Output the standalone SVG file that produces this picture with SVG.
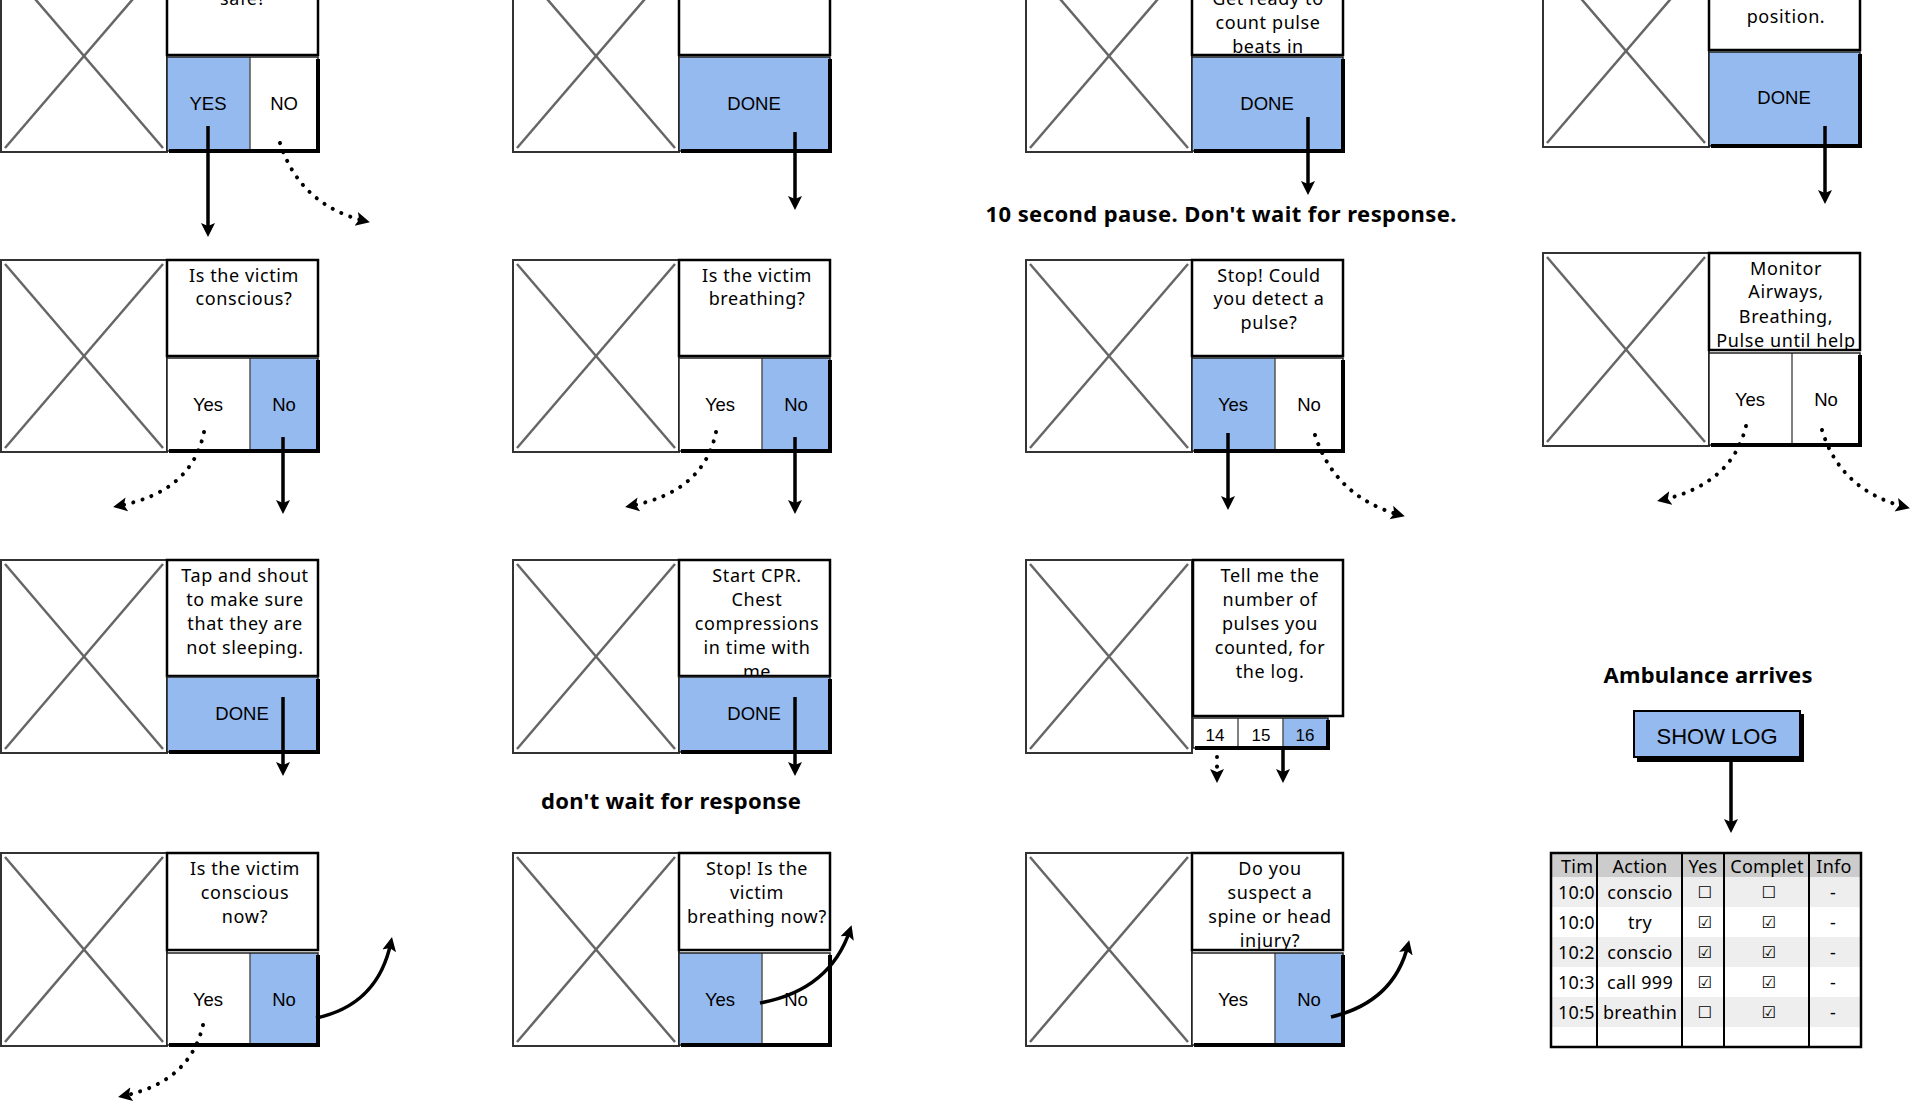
<svg xmlns="http://www.w3.org/2000/svg" width="1914" height="1103" viewBox="0 0 1914 1103">
<style>
.img{fill:#fff;stroke:#333;stroke-width:2}
.x{stroke:#666;stroke-width:2.5}
.panel{fill:#fff;stroke:#000;stroke-width:2.5}
.blue{fill:#94BAEF}
.white{fill:#fff}
.frame{fill:none;stroke:#222;stroke-width:1.5}
.shadow{fill:none;stroke:#000;stroke-width:4}
.div{stroke:#555;stroke-width:1.5}
.t{font-family:"Noto Sans",sans-serif;font-size:18px;letter-spacing:0.6px;text-anchor:middle;fill:#000}
.b{font-family:"Liberation Sans",Arial,sans-serif;font-size:18.5px;text-anchor:middle;fill:#000}
.lbl{font-family:"Noto Sans",sans-serif;font-weight:bold;font-size:22px;text-anchor:middle;fill:#000}
.solid{fill:none;stroke:#000;stroke-width:3.5;marker-end:url(#ah)}
.dot{fill:none;stroke:#000;stroke-width:4;stroke-dasharray:0.1 9.5;stroke-linecap:round;marker-end:url(#ah)}
.tb{font-family:"Noto Sans",sans-serif;font-size:18px;letter-spacing:0.3px;fill:#000}
.mid{text-anchor:middle}
.cb{font-family:"DejaVu Sans",sans-serif;font-size:16px;text-anchor:middle;fill:#000}
.tl{stroke:#000;stroke-width:2}
</style>
<defs>
<marker id="ah" markerUnits="userSpaceOnUse" markerWidth="20" markerHeight="20" refX="9" refY="8" orient="auto">
<path d="M0,1 L14,8 L0,15 L3,8 z" fill="#000" stroke="none"/>
</marker>
</defs>

<!-- Row 1 -->
<g id="node-r1c1">
<rect class="img" x="1" y="-40" width="166" height="192"/>
<line class="x" x1="5" y1="-36" x2="163" y2="148"/><line class="x" x1="163" y1="-36" x2="5" y2="148"/>
<rect class="panel" x="167" y="-40" width="151" height="95"/>
<text class="t" x="243" y="5">safe?</text>
<rect class="blue" x="167" y="57" width="83" height="94"/><rect class="white" x="250" y="57" width="68" height="94"/>
<line class="div" x1="250" y1="57" x2="250" y2="151"/>
<rect class="frame" x="167" y="57" width="151" height="94"/>
<path class="shadow" d="M318,59 V151 H169"/>
<text class="b" x="208" y="110">YES</text><text class="b" x="284" y="110">NO</text>
</g>
<g id="node-r1c2">
<rect class="img" x="513" y="-40" width="166" height="192"/>
<line class="x" x1="517" y1="-36" x2="675" y2="148"/><line class="x" x1="675" y1="-36" x2="517" y2="148"/>
<rect class="panel" x="679" y="-40" width="151" height="95"/>
<rect class="blue" x="679" y="57" width="151" height="94"/>
<rect class="frame" x="679" y="57" width="151" height="94"/>
<path class="shadow" d="M830,59 V151 H681"/>
<text class="b" x="754" y="110">DONE</text>
</g>
<g id="node-r1c3">
<rect class="img" x="1026" y="-40" width="166" height="192"/>
<line class="x" x1="1030" y1="-36" x2="1188" y2="148"/><line class="x" x1="1188" y1="-36" x2="1030" y2="148"/>
<rect class="panel" x="1192" y="-40" width="151" height="95"/>
<text class="t" x="1268" y="5">Get ready to</text>
<text class="t" x="1268" y="29">count pulse</text>
<text class="t" x="1268" y="53">beats in</text>
<rect class="blue" x="1192" y="57" width="151" height="94"/>
<rect class="frame" x="1192" y="57" width="151" height="94"/>
<path class="shadow" d="M1343,59 V151 H1194"/>
<text class="b" x="1267" y="110">DONE</text>
</g>
<g id="node-r1c4">
<rect class="img" x="1543" y="-45" width="166" height="192"/>
<line class="x" x1="1547" y1="-41" x2="1705" y2="143"/><line class="x" x1="1705" y1="-41" x2="1547" y2="143"/>
<rect class="panel" x="1709" y="-45" width="151" height="95"/>
<text class="t" x="1786" y="23">position.</text>
<rect class="blue" x="1709" y="52" width="151" height="94"/>
<rect class="frame" x="1709" y="52" width="151" height="94"/>
<path class="shadow" d="M1860,54 V146 H1711"/>
<text class="b" x="1784" y="104">DONE</text>
</g>

<!-- Row 2 -->
<g id="node-r2c1">
<rect class="img" x="1" y="260" width="166" height="192"/>
<line class="x" x1="5" y1="264" x2="163" y2="448"/><line class="x" x1="163" y1="264" x2="5" y2="448"/>
<rect class="panel" x="167" y="260" width="151" height="96"/>
<text class="t" x="244" y="282">Is the victim</text>
<text class="t" x="244" y="305">conscious?</text>
<rect class="white" x="167" y="358" width="83" height="93"/><rect class="blue" x="250" y="358" width="68" height="93"/>
<line class="div" x1="250" y1="358" x2="250" y2="451"/>
<rect class="frame" x="167" y="358" width="151" height="93"/>
<path class="shadow" d="M318,360 V451 H169"/>
<text class="b" x="208" y="411">Yes</text><text class="b" x="284" y="411">No</text>
</g>
<g id="node-r2c2">
<rect class="img" x="513" y="260" width="166" height="192"/>
<line class="x" x1="517" y1="264" x2="675" y2="448"/><line class="x" x1="675" y1="264" x2="517" y2="448"/>
<rect class="panel" x="679" y="260" width="151" height="96"/>
<text class="t" x="757" y="282">Is the victim</text>
<text class="t" x="757" y="305">breathing?</text>
<rect class="white" x="679" y="358" width="83" height="93"/><rect class="blue" x="762" y="358" width="68" height="93"/>
<line class="div" x1="762" y1="358" x2="762" y2="451"/>
<rect class="frame" x="679" y="358" width="151" height="93"/>
<path class="shadow" d="M830,360 V451 H681"/>
<text class="b" x="720" y="411">Yes</text><text class="b" x="796" y="411">No</text>
</g>
<g id="node-r2c3">
<rect class="img" x="1026" y="260" width="166" height="192"/>
<line class="x" x1="1030" y1="264" x2="1188" y2="448"/><line class="x" x1="1188" y1="264" x2="1030" y2="448"/>
<rect class="panel" x="1192" y="260" width="151" height="96"/>
<text class="t" x="1269" y="282">Stop! Could</text>
<text class="t" x="1269" y="305">you detect a</text>
<text class="t" x="1269" y="329">pulse?</text>
<rect class="blue" x="1192" y="358" width="83" height="93"/><rect class="white" x="1275" y="358" width="68" height="93"/>
<line class="div" x1="1275" y1="358" x2="1275" y2="451"/>
<rect class="frame" x="1192" y="358" width="151" height="93"/>
<path class="shadow" d="M1343,360 V451 H1194"/>
<text class="b" x="1233" y="411">Yes</text><text class="b" x="1309" y="411">No</text>
</g>
<g id="node-r2c4">
<rect class="img" x="1543" y="253" width="166" height="193"/>
<line class="x" x1="1547" y1="257" x2="1705" y2="442"/><line class="x" x1="1705" y1="257" x2="1547" y2="442"/>
<rect class="panel" x="1709" y="253" width="151" height="97"/>
<text class="t" x="1786" y="275">Monitor</text>
<text class="t" x="1786" y="298">Airways,</text>
<text class="t" x="1786" y="323">Breathing,</text>
<text class="t" x="1786" y="347">Pulse until help</text>
<rect class="white" x="1709" y="353" width="83" height="92"/><rect class="white" x="1792" y="353" width="68" height="92"/>
<line class="div" x1="1792" y1="353" x2="1792" y2="445"/>
<rect class="frame" x="1709" y="353" width="151" height="92"/>
<path class="shadow" d="M1860,355 V445 H1711"/>
<text class="b" x="1750" y="406">Yes</text><text class="b" x="1826" y="406">No</text>
</g>

<!-- Row 3 -->
<g id="node-r3c1">
<rect class="img" x="1" y="560" width="166" height="193"/>
<line class="x" x1="5" y1="564" x2="163" y2="749"/><line class="x" x1="163" y1="564" x2="5" y2="749"/>
<rect class="panel" x="167" y="560" width="151" height="116"/>
<text class="t" x="245" y="582">Tap and shout</text>
<text class="t" x="245" y="606">to make sure</text>
<text class="t" x="245" y="630">that they are</text>
<text class="t" x="245" y="654">not sleeping.</text>
<rect class="blue" x="167" y="677" width="151" height="75"/>
<rect class="frame" x="167" y="677" width="151" height="75"/>
<path class="shadow" d="M318,679 V752 H169"/>
<text class="b" x="242" y="720">DONE</text>
</g>
<g id="node-r3c2">
<rect class="img" x="513" y="560" width="166" height="193"/>
<line class="x" x1="517" y1="564" x2="675" y2="749"/><line class="x" x1="675" y1="564" x2="517" y2="749"/>
<rect class="panel" x="679" y="560" width="151" height="116"/>
<text class="t" x="757" y="582">Start CPR.</text>
<text class="t" x="757" y="606">Chest</text>
<text class="t" x="757" y="630">compressions</text>
<text class="t" x="757" y="654">in time with</text>
<text class="t" x="757" y="678">me</text>
<rect class="blue" x="679" y="677" width="151" height="75"/>
<rect class="frame" x="679" y="677" width="151" height="75"/>
<path class="shadow" d="M830,679 V752 H681"/>
<text class="b" x="754" y="720">DONE</text>
</g>
<g id="node-r3c3">
<rect class="img" x="1026" y="560" width="166" height="193"/>
<line class="x" x1="1030" y1="564" x2="1188" y2="749"/><line class="x" x1="1188" y1="564" x2="1030" y2="749"/>
<rect class="panel" x="1193" y="560" width="150" height="156"/>
<text class="t" x="1270" y="582">Tell me the</text>
<text class="t" x="1270" y="606">number of</text>
<text class="t" x="1270" y="630">pulses you</text>
<text class="t" x="1270" y="654">counted, for</text>
<text class="t" x="1270" y="678">the log.</text>
<rect class="white" x="1193" y="718" width="45" height="30"/><rect class="white" x="1238" y="718" width="45" height="30"/><rect class="blue" x="1283" y="718" width="45" height="30"/>
<line class="div" x1="1238" y1="718" x2="1238" y2="748"/><line class="div" x1="1283" y1="718" x2="1283" y2="748"/>
<rect class="frame" x="1193" y="718" width="135" height="30"/>
<path class="shadow" d="M1328,720 V748 H1195"/>
<text class="b" x="1215" y="741" style="font-size:17px">14</text>
<text class="b" x="1261" y="741" style="font-size:17px">15</text>
<text class="b" x="1305" y="741" style="font-size:17px">16</text>
</g>

<!-- Row 4 -->
<g id="node-r4c1">
<rect class="img" x="1" y="853" width="166" height="193"/>
<line class="x" x1="5" y1="857" x2="163" y2="1042"/><line class="x" x1="163" y1="857" x2="5" y2="1042"/>
<rect class="panel" x="167" y="853" width="151" height="97"/>
<text class="t" x="245" y="875">Is the victim</text>
<text class="t" x="245" y="899">conscious</text>
<text class="t" x="245" y="923">now?</text>
<rect class="white" x="167" y="953" width="83" height="92"/><rect class="blue" x="250" y="953" width="68" height="92"/>
<line class="div" x1="250" y1="953" x2="250" y2="1045"/>
<rect class="frame" x="167" y="953" width="151" height="92"/>
<path class="shadow" d="M318,955 V1045 H169"/>
<text class="b" x="208" y="1006">Yes</text><text class="b" x="284" y="1006">No</text>
</g>
<g id="node-r4c2">
<rect class="img" x="513" y="853" width="166" height="193"/>
<line class="x" x1="517" y1="857" x2="675" y2="1042"/><line class="x" x1="675" y1="857" x2="517" y2="1042"/>
<rect class="panel" x="679" y="853" width="151" height="97"/>
<text class="t" x="757" y="875">Stop! Is the</text>
<text class="t" x="757" y="899">victim</text>
<text class="t" x="757" y="923">breathing now?</text>
<rect class="blue" x="679" y="953" width="83" height="92"/><rect class="white" x="762" y="953" width="68" height="92"/>
<line class="div" x1="762" y1="953" x2="762" y2="1045"/>
<rect class="frame" x="679" y="953" width="151" height="92"/>
<path class="shadow" d="M830,955 V1045 H681"/>
<text class="b" x="720" y="1006">Yes</text><text class="b" x="796" y="1006">No</text>
</g>
<g id="node-r4c3">
<rect class="img" x="1026" y="853" width="166" height="193"/>
<line class="x" x1="1030" y1="857" x2="1188" y2="1042"/><line class="x" x1="1188" y1="857" x2="1030" y2="1042"/>
<rect class="panel" x="1192" y="853" width="151" height="97"/>
<text class="t" x="1270" y="875">Do you</text>
<text class="t" x="1270" y="899">suspect a</text>
<text class="t" x="1270" y="923">spine or head</text>
<text class="t" x="1270" y="947">injury?</text>
<rect class="white" x="1192" y="953" width="83" height="92"/><rect class="blue" x="1275" y="953" width="68" height="92"/>
<line class="div" x1="1275" y1="953" x2="1275" y2="1045"/>
<rect class="frame" x="1192" y="953" width="151" height="92"/>
<path class="shadow" d="M1343,955 V1045 H1194"/>
<text class="b" x="1233" y="1006">Yes</text><text class="b" x="1309" y="1006">No</text>
</g>

<!-- Labels -->
<g id="label-pause"><text class="lbl" x="1221" y="222" textLength="471" lengthAdjust="spacing">10 second pause. Don't wait for response.</text></g>
<g id="label-dontwait"><text class="lbl" x="671" y="809" textLength="260" lengthAdjust="spacing">don't wait for response</text></g>
<g id="label-ambulance"><text class="lbl" x="1708" y="683" textLength="209" lengthAdjust="spacing">Ambulance arrives</text></g>

<g id="node-showlog">
<rect class="blue" x="1634" y="711" width="166" height="46" stroke="#000" stroke-width="2"/>
<path class="shadow" d="M1802,714 V760 H1637"/>
<text class="b" x="1717" y="744" style="font-size:22px">SHOW LOG</text>
</g>

<g id="node-log">
<rect x="1551" y="853" width="310" height="194" fill="#fff"/>
<rect x="1552" y="854" width="308" height="23" fill="#CCCCCC"/>
<rect x="1552" y="877" width="308" height="30" fill="#EEEEEE"/>
<rect x="1552" y="937" width="308" height="30" fill="#EEEEEE"/>
<rect x="1552" y="997" width="308" height="30" fill="#EEEEEE"/>
<line class="tl" x1="1597" y1="853" x2="1597" y2="1047"/>
<line class="tl" x1="1682" y1="853" x2="1682" y2="1047"/>
<line class="tl" x1="1724" y1="853" x2="1724" y2="1047"/>
<line class="tl" x1="1809" y1="853" x2="1809" y2="1047"/>
<rect x="1551" y="853" width="310" height="194" fill="none" stroke="#000" stroke-width="2.5"/>
<text class="tb" x="1561" y="873">Tim</text>
<text class="tb mid" x="1640" y="873">Action</text>
<text class="tb mid" x="1703" y="873">Yes</text>
<text class="tb mid" x="1767" y="873">Complet</text>
<text class="tb mid" x="1834" y="873">Info</text>
<text class="tb" x="1558" y="899">10:0</text><text class="tb mid" x="1640" y="899">conscio</text><text class="cb" x="1705" y="898">☐</text><text class="cb" x="1769" y="898">☐</text><text class="tb mid" x="1833" y="899">-</text>
<text class="tb" x="1558" y="929">10:0</text><text class="tb mid" x="1640" y="929">try</text><text class="cb" x="1705" y="928">☑</text><text class="cb" x="1769" y="928">☑</text><text class="tb mid" x="1833" y="929">-</text>
<text class="tb" x="1558" y="959">10:2</text><text class="tb mid" x="1640" y="959">conscio</text><text class="cb" x="1705" y="958">☑</text><text class="cb" x="1769" y="958">☑</text><text class="tb mid" x="1833" y="959">-</text>
<text class="tb" x="1558" y="989">10:3</text><text class="tb mid" x="1640" y="989">call 999</text><text class="cb" x="1705" y="988">☑</text><text class="cb" x="1769" y="988">☑</text><text class="tb mid" x="1833" y="989">-</text>
<text class="tb" x="1558" y="1019">10:5</text><text class="tb mid" x="1640" y="1019">breathin</text><text class="cb" x="1705" y="1018">☐</text><text class="cb" x="1769" y="1018">☑</text><text class="tb mid" x="1833" y="1019">-</text>
</g>

<g id="connectors">
<path class="solid" d="M208,126 V232"/>
<path class="dot" d="M280,143 Q300,205 365,221"/>
<path class="solid" d="M795,132 V205"/>
<path class="solid" d="M1308,117 V190"/>
<path class="solid" d="M1825,126 V199"/>
<path class="dot" d="M204,432 Q192,492 118,506"/>
<path class="solid" d="M283,437 V509"/>
<path class="dot" d="M716,432 Q704,492 630,506"/>
<path class="solid" d="M795,437 V509"/>
<path class="solid" d="M1228,433 V505"/>
<path class="dot" d="M1315,435 Q1335,497 1400,515"/>
<path class="dot" d="M1746,426 Q1732,484 1662,500"/>
<path class="dot" d="M1822,430 Q1840,490 1905,507"/>
<path class="solid" d="M283,697 V771"/>
<path class="solid" d="M795,697 V771"/>
<path class="dot" d="M1217,757 V778"/>
<path class="solid" d="M1283,749 V778"/>
<path class="solid" d="M316,1018 Q378,1005 391,942"/>
<path class="dot" d="M203,1025 Q190,1082 123,1096"/>
<path class="solid" d="M760,1003 Q830,990 850,930"/>
<path class="solid" d="M1331,1017 Q1394,1002 1408,945"/>
<path class="solid" d="M1731,757 V828"/>
</g>
</svg>
